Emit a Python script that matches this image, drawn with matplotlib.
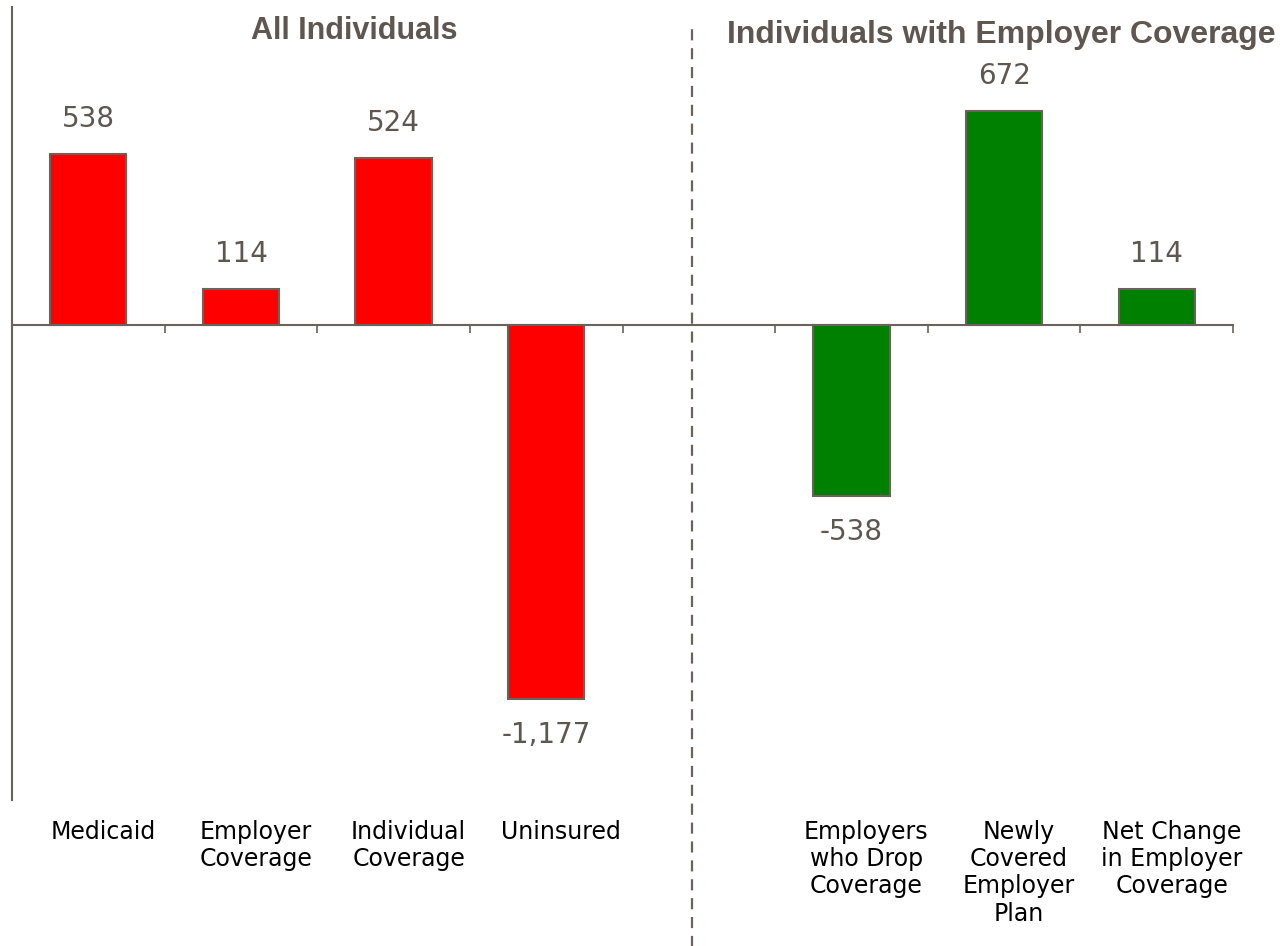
import matplotlib
matplotlib.use("Agg")
import matplotlib.pyplot as plt

# coverage changes (thousands)
left_labels = ["Medicaid", "Employer\nCoverage", "Individual\nCoverage", "Uninsured"]
left_values = [538, 114, 524, -1177]
right_labels = ["Employers\nwho Drop\nCoverage", "Newly\nCovered\nEmployer\nPlan",
                "Net Change\nin Employer\nCoverage"]
right_values = [-538, 672, 114]

gray = "#5f5650"
line_gray = "#6b625b"

fig = plt.figure(figsize=(12.8, 9.46), dpi=100)
ax = fig.add_axes([12 / 1280, 146 / 946, 1221 / 1280, 793 / 946])

left_x = list(range(len(left_values)))
right_x = [5 + i for i in range(len(right_values))]

ax.bar(left_x, left_values, width=0.5, color="#ff0000", edgecolor=line_gray, linewidth=1.5)
ax.bar(right_x, right_values, width=0.5, color="#008000", edgecolor=line_gray, linewidth=1.5)

ax.set_xlim(-0.5, 7.5)
ax.set_ylim(-1494, 1000)

# value labels
for x, v in zip(left_x + right_x, left_values + right_values):
    off = 35 if v > 0 else -36
    ax.annotate(f"{v:,}", xy=(x, v), xytext=(0, off), textcoords="offset pixels",
                ha="center", va="center", fontsize=20, color=gray,
                family="DejaVu Sans")

# category labels below the plot
for x, lab in zip(left_x + right_x, left_labels + right_labels):
    ax.annotate(lab, xy=(x, 0), xycoords=("data", "axes fraction"),
                xytext=(15, -20), textcoords="offset pixels",
                ha="center", va="top", multialignment="center",
                fontsize=17, color="black", linespacing=1.17,
                family="DejaVu Sans", annotation_clip=False)

# spines and ticks
for s in ["top", "right"]:
    ax.spines[s].set_visible(False)
ax.spines["bottom"].set_position(("data", 0))
ax.spines["bottom"].set_color(line_gray)
ax.spines["bottom"].set_linewidth(1.5)
ax.spines["left"].set_color(line_gray)
ax.spines["left"].set_linewidth(1.5)
ax.set_xticks([i - 0.5 for i in range(9)])
ax.set_xticklabels([])
ax.set_yticks([])
ax.tick_params(axis="x", direction="out", length=6, width=1.2, color=line_gray)

# divider between the two panels
ax.axvline(3.956, ymin=-0.19, ymax=0.98, color=line_gray, linewidth=1.6,
           linestyle=(0, (5, 3.5)), clip_on=False)

fig.text(354 / 1280, 1 - 31 / 946, "All Individuals", ha="center", va="center",
         fontsize=22, fontweight="bold", color=gray, family="Liberation Sans")
fig.text(1001 / 1280, 1 - 35 / 946, "Individuals with Employer Coverage",
         ha="center", va="center", fontsize=23, fontweight="bold", color=gray,
         family="Liberation Sans")

fig.savefig("out.png", dpi=100)
